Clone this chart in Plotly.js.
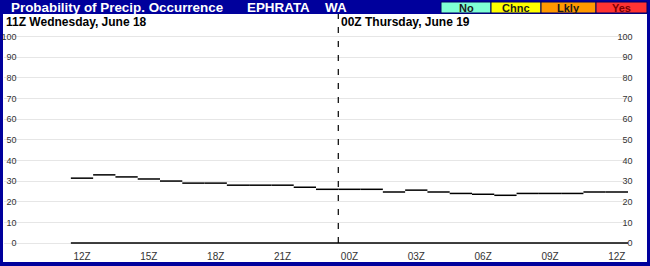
<!DOCTYPE html>
<html><head><meta charset="utf-8">
<script src="https://cdn.plot.ly/plotly-3.0.1.min.js"></script>
<style>html,body{margin:0;padding:0;background:#00009C}#chart{width:650px;height:266px}</style>
</head><body><div id="chart"></div>
<script>
// ---- data ----
const hours = ["12Z","13Z","14Z","15Z","16Z","17Z","18Z","19Z","20Z","21Z","22Z","23Z",
               "00Z","01Z","02Z","03Z","04Z","05Z","06Z","07Z","08Z","09Z","10Z","11Z","12Z"];
const pop = [31.4, 33, 32, 31, 30, 29, 29, 28, 28, 28, 27, 26,
             26, 26, 24.7, 25.6, 24.7, 24, 23.6, 23.1, 24, 24, 24, 24.7, 24.7];
const yTicks = [0, 10, 20, 30, 40, 50, 60, 70, 80, 90, 100];
const labelEvery = 3;
const titleText = "Probability of Precip. Occurrence";
const stationText = "EPHRATA";
const stateText = "WA";
const day1Text = "11Z Wednesday, June 18";
const day2Text = "00Z Thursday, June 19";
const catLabels = ["No", "Chnc", "Lkly", "Yes"];
const catColors = ["#7FFFD4", "#FFFF00", "#FF9900", "#FF3333"];
const catTextColors = ["#1a1a1a", "#1a1a1a", "#1a1a1a", "#7a0000"];

// ---- layout helpers ----
const W = 650, H = 266, L = 3, R = 3, T = 14, B = 4;
const PW = W - L - R, PH = H - T - B;
const px = p => (p - L) / PW;
const py = p => (H - B - p) / PH;
const NAVY = "#00009C";
const FONT = "Liberation Sans, Arial, sans-serif";
const lead = 3;                       // empty hours before first data hour
const nSlots = lead + hours.length;   // total hour slots on x axis
const yMin = -9.2, yMax = 110.9;

// ---- traces ----
const sx = [], sy = [];
pop.forEach((v, i) => { sx.push(lead + i, lead + i + 1, null); sy.push(v, v, null); });
const seg = { x: sx, y: sy, type: "scatter", mode: "lines", line: { color: "#000", width: 1.5 },
  hoverinfo: "skip", showlegend: false, xaxis: "x", yaxis: "y" };
const base = { x: [lead, lead + hours.length], y: [0, 0], type: "scatter", mode: "lines",
  line: { color: "#000", width: 1.5 }, hoverinfo: "skip", showlegend: false };

const gridVals = []; for (let k = 0; k <= nSlots; k++) gridVals.push(k);
const labVals = [], labText = [];
hours.forEach((h, i) => { if (i % labelEvery === 0) { labVals.push(lead + i + 0.5); labText.push(h); } });
const midIdx = hours.indexOf("00Z");

const tickFont = { family: FONT, size: 9, color: "#333" };
const yCommon = { range: [yMin, yMax], tickmode: "array", tickvals: yTicks, ticks: "",
  showgrid: false, zeroline: false, showline: false, fixedrange: true, tickfont: tickFont };

const shapes = [
  { type: "rect", xref: "paper", yref: "paper", x0: 0, x1: 1, y0: 0, y1: 1,
    fillcolor: "#fff", line: { width: 0 }, layer: "below" },
  { type: "line", xref: "x", yref: "y", x0: lead + midIdx, x1: lead + midIdx, y0: 0, y1: yMax,
    line: { color: "#000", width: 1.2, dash: "6px,8px" } }
];
const boxEdges = [441, 491, 541, 596, 647];
const annotations = [
  { text: titleText, x: px(9), y: py(7.5) },
  { text: stationText, x: px(245), y: py(7.5) },
  { text: stateText, x: px(323), y: py(7.5) }
].map(a => Object.assign(a, { xref: "paper", yref: "paper", xanchor: "left", yanchor: "middle",
  showarrow: false, font: { family: FONT, size: 13.4, color: "#fff", weight: "bold" } }));

catLabels.forEach((c, i) => {
  shapes.push({ type: "rect", xref: "paper", yref: "paper", x0: px(boxEdges[i]), x1: px(boxEdges[i + 1]),
    y0: py(13), y1: py(2), fillcolor: catColors[i], line: { color: "#000060", width: 1 } });
  annotations.push({ text: c, xref: "paper", yref: "paper", x: px((boxEdges[i] + boxEdges[i + 1]) / 2),
    y: py(7.5), xanchor: "center", yanchor: "middle", showarrow: false,
    font: { family: FONT, size: 11, color: catTextColors[i], weight: "bold" } });
});
annotations.push({ text: day1Text, xref: "paper", yref: "paper", x: px(4), y: py(21.5),
  xanchor: "left", yanchor: "middle", showarrow: false,
  font: { family: FONT, size: 12, color: "#000", weight: "bold" } });
annotations.push({ text: day2Text, xref: "x", yref: "paper", x: lead + midIdx, xshift: 1, y: py(21.5),
  xanchor: "left", yanchor: "middle", showarrow: false,
  font: { family: FONT, size: 12, color: "#000", weight: "bold" } });

const layout = {
  width: W, height: H, margin: { l: L, r: R, t: T, b: B, pad: 0 },
  paper_bgcolor: NAVY, plot_bgcolor: "rgba(0,0,0,0)", showlegend: false,
  xaxis: { domain: [px(4), px(628)], range: [0, nSlots], tickmode: "array", tickvals: gridVals,
    showticklabels: false, ticks: "", showgrid: true, gridcolor: "#e6e6e6", gridwidth: 1,
    zeroline: false, showline: false, fixedrange: true },
  xaxis2: { overlaying: "x", anchor: "free", position: py(249), side: "bottom",
    range: [0, nSlots], tickmode: "array", tickvals: labVals, ticktext: labText,
    ticks: "", showgrid: false, zeroline: false, showline: false, fixedrange: true,
    tickfont: { family: FONT, size: 10, color: "#333" } },
  yaxis: Object.assign({}, yCommon, { anchor: "x", showgrid: true, gridcolor: "#e6e6e6", showticklabels: false }),
  yaxis2: Object.assign({}, yCommon, { overlaying: "y", anchor: "free", position: px(19.5), side: "right",
    ticklabelposition: "inside" }),
  yaxis3: Object.assign({}, yCommon, { overlaying: "y", anchor: "free", position: px(635.5), side: "right",
    ticklabelposition: "inside" }),
  shapes: shapes, annotations: annotations
};
const dummyX2 = { x: [0], y: [0], xaxis: "x2", yaxis: "y", type: "scatter", mode: "markers",
  marker: { opacity: 0 }, hoverinfo: "skip", showlegend: false };
const dummy2 = { x: [0], y: [0], xaxis: "x", yaxis: "y2", type: "scatter", mode: "markers",
  marker: { opacity: 0 }, hoverinfo: "skip", showlegend: false };
const dummy3 = { x: [0], y: [0], xaxis: "x", yaxis: "y3", type: "scatter", mode: "markers",
  marker: { opacity: 0 }, hoverinfo: "skip", showlegend: false };
Plotly.newPlot("chart", [seg, base, dummyX2, dummy2, dummy3], layout, { staticPlot: true, displayModeBar: false });
</script></body></html>
